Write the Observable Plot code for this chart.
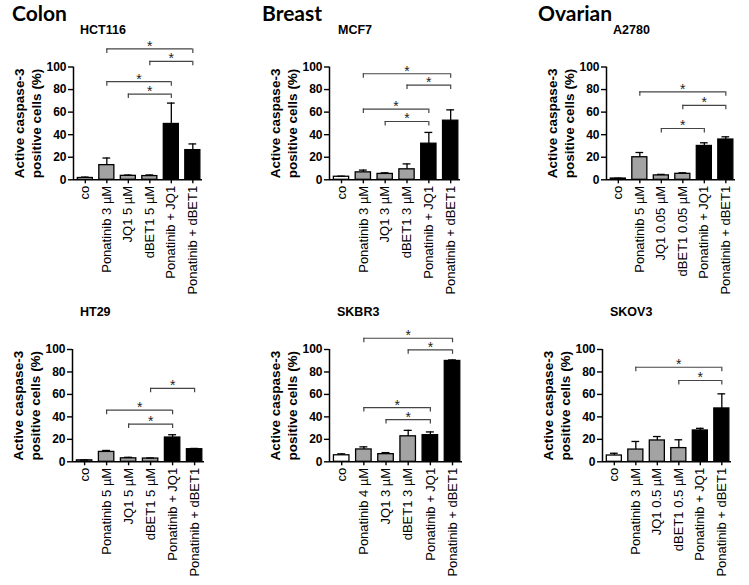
<!DOCTYPE html>
<html><head><meta charset="utf-8">
<script src="https://cdn.jsdelivr.net/npm/d3@7"></script>
<script src="https://cdn.jsdelivr.net/npm/@observablehq/plot@0.6"></script>
<style>
body{margin:0;background:#fff;}
#page{position:relative;width:749px;height:585px;overflow:hidden;background:#fff;font-family:"Liberation Sans",Arial,sans-serif;color:#000;}
.group{position:absolute;font-family:Lato,"Open Sans",sans-serif;font-weight:bold;font-size:21px;line-height:normal;white-space:nowrap;}
.cell{position:absolute;font-family:"Liberation Sans",Arial,sans-serif;font-weight:bold;font-size:12.5px;line-height:normal;white-space:nowrap;}
.panel{position:absolute;}
.panel svg{overflow:hidden;}
</style></head>
<body><div id="page"></div>
<script>
// ---------- data ----------
const groupTitles = ["Colon", "Breast", "Ovarian"];
const cellLines = ["HCT116", "MCF7", "A2780", "HT29", "SKBR3", "SKOV3"];
const yTicks = [0, 20, 40, 60, 80, 100];
const yLabel = "Active caspase-3\npositive cells (%)";
const barKinds = ["control", "single", "single", "single", "combo", "combo"];
const kindColors = {control: "#ffffff", single: "#a3a3a3", combo: "#000000"};

const hct116Labels = ["co", "Ponatinib 3 µM", "JQ1 5 µM", "dBET1 5 µM", "Ponatinib + JQ1", "Ponatinib + dBET1"];
const hct116Means = [1.6, 13, 3.5, 3.3, 49.5, 26.3];
const hct116Errors = [0.8, 6.3, 0.7, 1.0, 18.5, 5.5];
const hct116Brackets = [[1, 5, 116], [3, 5, 105], [1, 4, 87], [2, 4, 76]];

const mcf7Labels = ["co", "Ponatinib 3 µM", "JQ1 3 µM", "dBET1 3 µM", "Ponatinib + JQ1", "Ponatinib + dBET1"];
const mcf7Means = [2.7, 6.6, 5.2, 9.3, 32, 52.4];
const mcf7Errors = [0.5, 2.0, 1.0, 4.8, 10, 9.6];
const mcf7Brackets = [[1, 5, 94], [3, 5, 84], [1, 4, 62.7], [2, 4, 51.7]];

const a2780Labels = ["co", "Ponatinib 5 µM", "JQ1 0.05 µM", "dBET1 0.05 µM", "Ponatinib + JQ1", "Ponatinib + dBET1"];
const a2780Means = [1.1, 20, 3.9, 5.3, 30, 35.7];
const a2780Errors = [0.3, 4.2, 0.9, 0.9, 2.8, 2.4];
const a2780Brackets = [[1, 5, 78], [3, 5, 66], [2, 4, 45.5]];

const ht29Labels = ["co", "Ponatinib 5 µM", "JQ1 5 µM", "dBET1 5 µM", "Ponatinib + JQ1", "Ponatinib + dBET1"];
const ht29Means = [1.3, 8.8, 3.1, 2.9, 21.6, 11.2];
const ht29Errors = [0.3, 1.3, 0.9, 0.5, 2.5, 0.7];
const ht29Brackets = [[3, 5, 65.4], [1, 4, 46], [2, 4, 33.6]];

const skbr3Labels = ["co", "Ponatinib 4 µM", "JQ1 3 µM", "dBET1 3 µM", "Ponatinib + JQ1", "Ponatinib + dBET1"];
const skbr3Means = [5.8, 11, 6.8, 22.7, 23.7, 89.8];
const skbr3Errors = [1.3, 2.3, 1.4, 5.3, 2.9, 0.9];
const skbr3Brackets = [[1, 5, 110], [3, 5, 99.7], [1, 4, 48.3], [2, 4, 37.6]];

const skov3Labels = ["co", "Ponatinib 3 µM", "JQ1 0.5 µM", "dBET1 0.5 µM", "Ponatinib + JQ1", "Ponatinib + dBET1"];
const skov3Means = [5.6, 10.9, 19, 12.2, 27.9, 47.5];
const skov3Errors = [2.0, 7.2, 3.5, 7.4, 1.9, 13];
const skov3Brackets = [[1, 5, 84.2], [3, 5, 72.4]];

// ---------- layout ----------
const page = document.getElementById("page");
function addText(cls, text, left, top) {
  const d = document.createElement("div");
  d.className = cls; d.textContent = text;
  d.style.left = left + "px"; d.style.top = top + "px";
  page.appendChild(d);
}
addText("group", groupTitles[0], 12, 0);
addText("group", groupTitles[1], 262, 0);
addText("group", groupTitles[2], 538, 0);
addText("cell", cellLines[0], 80, 23);
addText("cell", cellLines[1], 338, 23);
addText("cell", cellLines[2], 613, 23);
addText("cell", cellLines[3], 80, 305);
addText("cell", cellLines[4], 337, 305);
addText("cell", cellLines[5], 610, 305);

const xDomain = [-0.55, 5.45];
const FONT = "'Liberation Sans', Arial, sans-serif";

function panel(labels, means, errors, brackets, geo) {
  const {left, top, width, height, axisX, axisEnd, y0, y100} = geo;
  const data = means.map((v, i) => ({i, v, e: errors[i], kind: barKinds[i]}));
  const bdata = brackets.map(([a, b, h]) => ({a, b, h}));
  const chart = Plot.plot({
    width, height,
    marginLeft: axisX - left,
    marginRight: left + width - axisEnd,
    marginTop: y100 - top,
    marginBottom: top + height - y0,
    x: {type: "linear", domain: xDomain},
    y: {domain: [0, 100]},
    color: {type: "identity"},
    style: {fontFamily: FONT, background: "transparent", color: "#000", overflow: "hidden"},
    marks: [
      Plot.axisY({ticks: yTicks, tickSize: 5, tickPadding: 2, fontSize: 12, fontWeight: "bold", label: null, strokeWidth: 1.4}),
      Plot.axisX({ticks: d3.range(labels.length), tickFormat: i => labels[i], tickRotate: -90, tickSize: 4, tickPadding: 2, fontSize: 13, label: null, strokeWidth: 1.4}),
      Plot.text([yLabel], {text: d => d, frameAnchor: "left", textAnchor: "middle", dx: -46, rotate: -90, fontSize: 13.5, fontWeight: "bold", lineHeight: 1.25}),
      Plot.rectY(data, {x1: d => d.i - 0.35, x2: d => d.i + 0.35, y1: 0, y2: "v", fill: d => kindColors[d.kind], stroke: "#000", strokeWidth: 1.3}),
      Plot.ruleX(data, {x: "i", y1: "v", y2: d => d.v + d.e, stroke: "#000", strokeWidth: 1.3}),
      Plot.ruleY(data, {x1: d => d.i - 0.18, x2: d => d.i + 0.18, y: d => d.v + d.e, stroke: "#000", strokeWidth: 1.3}),
      Plot.ruleX([xDomain[0]], {y1: 0, y2: 100, stroke: "#000", strokeWidth: 1.5}),
      Plot.ruleY([0], {x1: xDomain[0], x2: xDomain[1], stroke: "#000", strokeWidth: 1.5}),
      Plot.ruleY(bdata, {x1: "a", x2: "b", y: "h", stroke: "#444", strokeWidth: 1.2}),
      Plot.ruleX(bdata, {x: "a", y1: d => d.h - 4, y2: "h", stroke: "#444", strokeWidth: 1.2}),
      Plot.ruleX(bdata, {x: "b", y1: d => d.h - 4, y2: "h", stroke: "#444", strokeWidth: 1.2}),
      Plot.text(bdata, {x: d => (d.a + d.b) / 2, y: "h", text: () => "*", dy: -2.5, fontSize: 14, fill: "#222"})
    ]
  });
  const wrap = document.createElement("div");
  wrap.className = "panel";
  wrap.style.left = left + "px"; wrap.style.top = top + "px";
  wrap.style.width = width + "px"; wrap.style.height = height + "px";
  wrap.appendChild(chart);
  page.appendChild(wrap);
}

const r1 = {top: 38, height: 260, y0: 179.3, y100: 66.5};
const r2 = {top: 320, height: 265, y0: 461.3, y100: 349};
panel(hct116Labels, hct116Means, hct116Errors, hct116Brackets, {...r1, left: 0, width: 250, axisX: 73, axisEnd: 202});
panel(mcf7Labels, mcf7Means, mcf7Errors, mcf7Brackets, {...r1, left: 250, width: 250, axisX: 329, axisEnd: 460});
panel(a2780Labels, a2780Means, a2780Errors, a2780Brackets, {...r1, left: 500, width: 249, axisX: 606, axisEnd: 735});
panel(ht29Labels, ht29Means, ht29Errors, ht29Brackets, {...r2, left: 0, width: 250, axisX: 72, axisEnd: 204});
panel(skbr3Labels, skbr3Means, skbr3Errors, skbr3Brackets, {...r2, left: 250, width: 250, axisX: 329, axisEnd: 462});
panel(skov3Labels, skov3Means, skov3Errors, skov3Brackets, {...r2, left: 500, width: 249, axisX: 602, axisEnd: 731});
</script>
</body></html>
